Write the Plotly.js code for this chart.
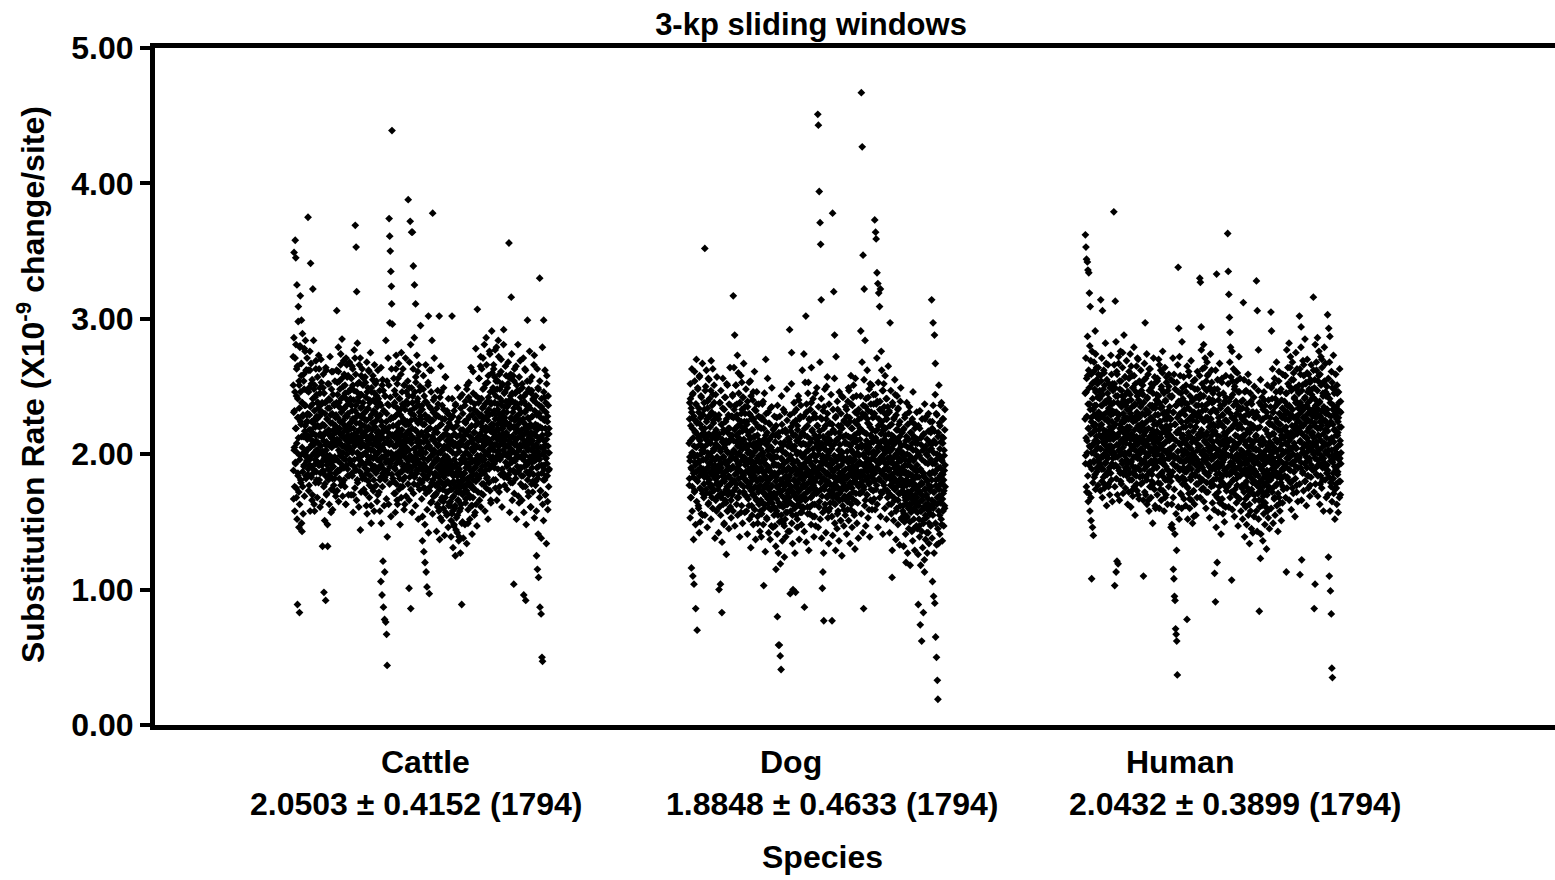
<!DOCTYPE html>
<html>
<head>
<meta charset="utf-8">
<script src="https://cdn.plot.ly/plotly-3.0.1.min.js"></script>
<style>
html,body{margin:0;padding:0;background:#fff;}
#chart{width:1555px;height:880px;}
</style>
</head>
<body>
<div id="chart"></div>
<script>
// Substitution rates (x10^-9 change/site) of 3-kb sliding windows, stored in hundredths,
// in window order. "A" arrays hold odd windows, "B" arrays the even windows in between.
const cattleRateA = [
272,188,231,349,205,176,246,358,193,345,219,168,263,325,201,89,241,184,309,227,146,251,83,196,280,317,224,179,258,299,213,143,238,187,228,156,201,254,192,278,236,199,221,284,215,182,262,203,229,247,
198,224,375,189,246,213,177,229,196,262,205,341,218,191,252,207,166,216,237,322,186,223,209,248,201,158,226,242,193,214,269,203,181,228,199,238,221,194,234,179,208,263,220,192,245,215,186,231,201,253,
213,192,231,132,202,249,187,214,98,199,221,178,238,207,92,195,262,209,171,226,199,132,234,189,215,252,196,217,184,240,206,193,223,157,212,261,197,230,182,209,244,191,218,173,211,236,198,207,186,227,
216,196,238,306,211,253,188,227,209,261,203,235,182,219,248,199,215,274,193,231,207,256,213,179,242,201,225,269,190,217,234,206,251,196,220,163,241,210,266,200,228,189,214,258,206,239,184,222,211,247,
203,241,193,219,256,214,186,232,201,263,211,170,226,208,247,196,215,271,369,189,236,353,209,320,228,181,252,201,217,197,239,212,266,192,223,209,144,244,205,258,194,221,235,184,213,251,200,230,207,216,
214,182,231,206,253,193,217,162,225,199,246,210,188,234,204,262,194,219,177,240,208,227,198,214,149,249,203,189,223,212,258,197,232,181,211,202,245,191,220,207,238,186,254,200,216,196,228,170,209,241,
207,189,228,196,247,181,214,203,106,236,192,221,96,205,255,186,212,87,232,198,218,78,183,243,202,76,194,224,67,209,44,188,237,200,216,195,251,374,207,361,191,350,226,335,201,324,311,439,214,197,
196,221,180,236,206,190,247,212,171,228,200,263,193,216,207,166,234,198,256,185,211,223,202,241,182,214,195,229,176,206,275,199,218,188,237,204,181,226,210,251,192,213,163,233,201,215,189,246,205,222,
210,188,237,203,388,195,222,101,249,183,215,372,199,86,230,208,364,190,219,364,243,197,339,212,178,234,325,204,226,192,311,253,201,217,186,239,211,196,261,206,224,189,236,214,174,247,200,228,209,192,
190,216,179,233,136,201,185,248,209,128,193,222,175,120,212,239,188,113,205,226,102,182,214,196,253,302,187,219,97,206,235,176,198,224,190,262,203,165,213,192,378,181,231,200,169,211,195,242,186,218,
184,208,171,228,195,178,216,190,161,237,201,183,207,302,174,221,192,153,212,187,246,179,203,168,226,196,185,214,165,233,190,206,177,199,257,188,157,218,194,172,210,186,230,180,204,192,162,223,189,213,
178,203,165,221,189,151,210,174,302,192,158,228,184,169,206,148,196,215,177,162,236,186,144,200,172,213,190,155,224,180,166,208,187,139,202,175,242,193,160,218,185,171,89,207,181,150,230,195,176,211,
186,214,176,236,196,164,223,190,205,173,248,201,182,217,149,208,193,253,179,228,199,168,213,188,239,204,177,221,194,162,211,185,261,202,174,233,207,190,216,157,226,196,180,243,205,184,212,307,193,230,
210,238,195,256,205,184,228,215,265,199,223,171,241,210,191,234,218,271,203,178,226,249,196,213,237,207,188,220,286,212,182,231,201,253,219,193,242,211,179,229,204,274,198,217,166,238,208,222,191,260,
220,198,249,212,266,203,232,190,257,216,226,181,243,207,279,213,196,237,222,254,201,218,272,206,230,176,248,211,225,199,261,219,209,239,189,251,215,228,203,281,221,183,235,210,246,200,224,214,258,206,
214,191,235,206,252,198,221,182,356,210,240,200,219,188,259,204,316,226,194,245,213,179,231,202,220,104,254,196,225,209,238,186,216,265,200,228,206,191,247,212,222,169,234,198,257,217,189,225,207,242,
206,231,184,218,197,249,211,176,226,201,96,239,191,215,263,199,222,92,209,245,187,233,205,299,193,219,172,236,208,226,185,213,254,196,222,161,216,203,247,190,228,210,180,241,199,220,205,273,195,214,
198,222,180,238,207,125,190,218,115,202,249,185,109,212,230,196,330,87,220,173,205,82,235,192,50,214,47,200,226,181,299,210,189,242,202,170,219,197,231,184,211,258,193,224,165,206,236,188,215,201
];
const cattleRateB = [
251,167,286,203,232,158,271,194,219,281,175,243,208,152,265,227,186,298,212,172,254,234,163,279,199,246,181,222,267,149,238,205,289,176,229,213,259,191,248,169,217,276,201,236,184,262,224,195,271,211,
230,185,262,204,173,249,218,192,276,158,235,211,267,183,224,199,255,170,241,215,189,284,207,163,232,251,196,220,179,263,210,187,244,226,168,257,203,238,192,273,214,181,228,249,161,236,206,270,194,221,
201,238,165,222,188,259,210,176,245,197,151,230,216,184,264,203,170,239,192,226,148,252,207,181,218,241,163,234,199,272,186,213,229,174,248,205,190,223,159,261,195,215,177,237,208,182,254,196,221,169,
229,186,262,207,173,244,218,195,279,165,238,210,254,188,224,201,266,177,241,214,190,285,206,169,233,250,197,222,181,259,212,176,245,228,163,271,204,236,192,257,217,184,230,246,170,239,209,268,196,223,
195,248,212,170,236,203,265,184,226,251,157,219,240,191,277,206,175,232,214,259,188,223,166,246,201,282,179,229,208,242,161,253,196,218,187,271,210,234,172,244,199,227,263,182,215,238,193,256,174,221,
226,190,257,201,171,242,213,186,268,156,233,207,249,180,220,196,261,168,238,211,184,275,203,162,229,246,192,218,175,255,207,173,240,223,158,266,198,231,187,252,212,177,225,243,165,235,201,262,190,217,
205,172,238,195,158,229,211,183,264,149,224,198,251,176,216,121,247,189,232,162,208,113,243,181,219,284,196,167,230,254,139,212,186,271,201,163,236,220,178,297,193,242,209,154,227,263,185,214,296,199,
182,227,199,256,171,213,238,189,157,244,206,273,178,221,197,252,163,230,209,186,267,174,218,241,194,148,233,202,259,168,214,187,246,224,176,263,191,208,236,159,251,198,183,222,271,205,169,239,212,192,
224,196,254,178,217,243,203,166,268,191,232,210,281,174,225,249,186,157,238,212,195,263,171,229,204,286,183,246,218,162,257,199,235,188,273,209,177,241,223,152,266,194,214,231,181,250,202,295,189,226,
204,167,236,189,154,222,197,258,175,213,243,182,148,229,201,266,171,217,190,238,159,209,184,251,196,142,227,205,173,262,187,219,234,164,246,199,179,284,211,156,225,193,240,169,203,271,185,216,230,177,
170,219,185,143,234,197,163,247,206,176,228,158,191,211,137,242,180,201,265,166,222,188,151,236,195,174,213,160,249,183,204,140,226,192,168,257,179,215,187,155,232,198,172,220,146,241,186,207,164,229,
195,162,226,174,139,213,187,156,241,168,201,131,219,180,147,232,191,160,208,125,237,176,193,153,221,184,142,249,166,205,172,136,227,189,158,214,178,127,234,196,163,210,149,244,183,170,218,138,199,181,
172,224,186,148,239,201,167,215,193,134,251,178,208,226,159,191,242,170,219,183,152,233,197,176,264,162,210,187,141,229,204,168,245,181,216,195,155,237,174,221,190,278,163,206,185,147,231,199,212,172,
223,182,256,197,166,241,214,188,272,161,229,205,263,178,220,195,248,170,235,209,186,281,199,158,227,252,192,217,175,266,211,183,239,225,152,258,202,233,189,276,208,173,246,218,164,237,196,291,204,230,
204,246,222,181,263,215,193,238,207,277,175,229,254,198,218,166,248,211,233,189,284,203,226,172,259,214,196,241,223,185,270,208,236,161,252,219,199,231,186,292,212,245,177,227,206,265,194,239,216,183,
231,174,249,214,192,268,201,185,237,222,157,256,208,243,179,227,196,274,213,166,239,202,258,188,220,234,171,263,207,195,245,182,226,211,152,251,198,237,218,281,187,229,203,164,247,216,190,269,205,178,
190,238,213,166,252,199,224,184,271,207,157,243,219,195,231,176,262,205,148,236,192,216,254,181,227,203,169,248,212,187,276,198,234,161,221,209,245,178,257,194,228,172,240,206,185,266,215,153,232,201,
214,177,243,196,158,229,205,263,182,221,141,248,191,210,236,168,254,199,173,227,212,138,241,186,219,279,163,233,204,151,246,192,225,181,262,207,170,238,197,134,252,215,184,228,159,243,201,176,219,189
];
const dogRateA = [
208,182,238,195,252,168,221,190,116,231,201,176,244,110,212,186,226,104,198,261,173,217,192,86,237,205,181,223,70,199,249,188,214,160,234,194,257,184,210,150,227,200,174,242,189,219,206,155,229,196,
189,216,178,233,202,352,186,212,250,196,171,224,207,183,239,190,214,163,228,199,255,181,209,193,220,176,247,201,187,231,168,213,196,263,184,225,204,174,238,192,216,182,207,244,189,211,158,227,198,179,
183,206,174,226,192,100,215,177,238,188,104,202,168,222,193,83,211,180,234,198,171,218,186,149,205,242,182,195,224,164,210,188,252,176,202,216,158,191,229,184,209,172,219,196,178,236,189,166,213,200,
198,228,181,244,190,317,210,173,233,202,288,185,219,196,251,178,214,189,237,168,206,226,193,260,182,212,201,172,238,188,221,208,157,230,195,253,183,217,204,186,242,176,211,198,224,170,235,192,218,187,
180,207,169,222,193,239,176,203,187,216,162,230,196,178,211,254,185,201,173,226,190,155,218,181,206,246,194,170,213,184,233,202,176,223,188,208,167,237,195,180,214,149,205,187,228,174,199,220,182,209,
177,204,166,219,190,156,227,181,199,172,239,187,103,211,175,196,163,224,184,270,170,207,192,152,216,179,203,167,231,188,174,211,160,199,222,182,171,205,187,147,235,177,196,214,168,202,185,161,219,193,
171,198,160,214,180,115,192,167,227,176,80,203,155,186,59,216,172,59,191,162,51,208,178,41,197,151,222,169,187,202,161,233,174,193,147,209,183,165,218,177,157,200,188,168,225,180,163,206,173,190,
183,209,168,292,177,97,199,164,220,187,275,173,206,155,193,100,214,181,170,231,190,160,203,176,98,225,185,167,210,195,152,218,179,201,172,240,188,162,212,182,174,228,192,166,207,186,157,216,198,177,
181,208,170,274,193,87,219,176,201,186,302,167,231,189,178,213,161,203,195,253,173,207,184,156,225,198,179,211,168,238,187,175,217,192,163,204,182,227,171,199,190,154,214,180,245,195,174,208,186,221,
183,210,451,172,443,200,189,394,165,217,371,179,355,206,314,192,226,169,101,197,113,213,182,77,235,174,204,187,160,221,194,177,208,250,185,168,230,199,180,212,158,202,191,173,223,184,164,210,196,216,
177,204,77,193,378,168,218,183,320,174,199,288,189,163,227,177,272,195,170,211,181,156,233,191,175,203,166,216,186,171,207,197,151,221,180,192,243,175,201,185,167,213,179,195,159,224,188,176,209,183,
189,214,174,233,182,202,165,222,194,177,249,185,207,170,227,197,179,212,159,237,188,203,175,219,191,167,242,183,209,196,155,224,180,199,256,186,171,211,192,178,230,201,164,216,187,205,176,226,194,183,
194,219,178,291,187,467,207,172,427,230,185,347,200,86,176,322,216,191,284,166,235,197,181,210,203,170,226,189,208,242,183,196,159,222,205,179,252,192,214,174,231,187,201,165,218,197,182,209,237,189,
199,230,373,186,217,364,195,359,210,177,334,239,202,326,189,221,319,206,181,309,233,194,322,209,172,276,198,224,187,247,204,179,218,196,252,184,211,230,174,214,201,190,241,182,207,226,193,168,235,203,
188,215,171,231,183,202,297,177,210,194,163,222,185,109,204,236,179,197,213,168,227,190,174,208,244,181,200,158,218,193,176,211,186,233,166,203,197,222,178,189,213,171,239,182,195,206,152,216,190,201,
173,199,162,218,180,156,207,170,192,229,166,187,120,213,177,153,200,172,222,184,160,211,168,195,235,178,150,205,185,163,216,173,197,159,226,181,167,203,189,145,212,176,164,219,183,170,208,158,198,187,
168,192,157,211,176,89,201,162,183,147,219,172,74,189,158,207,166,62,196,178,151,214,169,83,186,160,204,113,174,226,155,182,163,200,170,142,211,180,159,193,167,230,177,149,203,162,185,173,156,216,
176,204,314,166,219,106,187,297,160,95,210,172,288,90,193,267,65,181,230,50,163,200,33,175,19,216,134,190,169,223,155,204,184,164,236,178,196,148,213,186,167,208,158,226,181,173,199,162,218,192
];
const dogRateB = [
177,226,198,153,241,210,168,234,189,263,158,219,201,245,183,137,228,206,172,254,194,216,148,237,187,270,165,224,199,180,248,212,162,231,195,142,258,207,175,222,190,243,156,214,203,186,267,171,229,196,
205,168,238,183,219,155,247,196,211,174,262,189,226,146,234,201,179,256,164,215,193,241,171,228,186,208,152,269,198,177,236,212,160,244,190,223,173,251,203,185,138,229,196,166,218,207,178,257,188,214,
169,213,187,142,229,196,161,238,178,204,155,247,190,171,222,135,209,184,256,163,216,198,148,233,180,207,166,242,193,174,126,226,188,158,251,201,170,219,183,145,237,195,177,264,161,211,189,153,228,198,
214,170,243,191,158,227,203,264,180,218,147,236,197,175,251,209,163,229,186,273,155,221,200,168,245,192,216,139,238,205,178,258,187,224,162,233,198,149,242,210,184,267,172,219,195,157,230,206,181,248,
196,158,224,180,141,235,201,167,214,189,253,152,207,176,229,194,131,243,183,162,218,199,170,240,187,148,226,208,175,261,159,213,191,137,232,204,166,246,181,197,154,220,189,172,237,163,210,194,143,227,
158,208,182,139,226,195,164,237,172,201,148,219,186,160,245,177,193,128,214,169,230,188,153,208,181,256,163,199,175,142,223,190,167,211,137,234,183,159,205,176,249,164,197,185,146,218,171,192,155,228,
186,147,209,170,132,221,183,158,198,141,236,175,192,127,213,164,187,150,228,172,119,204,181,155,243,162,196,136,217,178,149,207,168,189,124,231,177,152,201,139,216,184,163,248,157,195,171,143,212,180,
165,211,184,143,229,197,158,217,176,252,149,204,188,134,223,172,195,162,238,181,206,127,214,169,189,155,233,178,200,146,221,186,163,243,174,209,137,226,192,168,201,157,236,183,148,215,175,262,190,161,
199,160,228,178,143,214,191,253,166,207,184,135,237,196,172,221,156,245,188,203,129,226,174,195,161,233,181,209,148,264,192,169,218,186,154,241,177,200,139,230,189,163,212,198,147,227,183,171,249,206,
172,221,190,146,235,203,161,213,185,268,152,227,194,174,241,138,208,182,199,157,232,188,127,219,176,204,248,163,211,193,142,226,180,197,169,257,186,153,215,201,134,237,178,192,160,223,207,171,244,189,
193,154,222,171,140,233,187,164,207,178,256,149,216,183,129,228,196,168,210,145,239,175,190,158,221,181,136,246,199,166,213,184,151,230,173,202,125,219,187,162,242,176,197,147,225,182,169,208,155,235,
167,208,183,141,228,197,159,239,176,213,151,247,190,168,224,134,206,185,258,163,219,194,146,236,179,201,172,251,188,157,214,196,130,231,182,209,165,243,191,149,222,178,205,187,138,233,199,171,216,184,
211,171,243,193,156,227,205,268,180,217,142,236,199,174,255,188,162,229,206,183,147,241,194,215,170,262,187,223,153,232,201,178,248,191,139,220,208,166,237,196,184,251,159,212,190,227,173,244,202,167,
180,228,201,159,244,212,174,237,190,271,163,218,205,146,253,193,226,182,208,168,239,197,154,232,215,186,262,171,221,199,141,247,188,210,177,235,204,160,258,193,219,184,226,152,241,208,173,230,197,265,
205,163,232,189,142,221,198,170,247,181,156,214,194,129,238,176,207,183,151,226,192,166,255,174,211,187,137,229,200,160,243,179,218,148,234,190,171,209,196,133,224,185,162,249,177,201,153,216,188,172,
158,201,176,132,219,186,150,227,168,196,141,210,181,163,238,154,192,127,205,172,186,145,231,163,199,179,118,216,191,157,224,170,143,208,184,136,246,166,195,152,213,178,129,222,189,161,203,174,147,231,
183,145,208,164,126,221,176,152,199,139,232,171,188,118,212,158,179,143,226,166,131,203,184,149,215,161,122,237,174,194,137,206,169,153,228,181,127,199,163,142,217,175,134,209,186,156,224,160,147,196,
162,207,181,138,224,193,155,236,172,201,127,217,186,164,244,149,208,177,196,133,229,168,189,145,213,182,158,251,174,199,141,221,190,165,209,152,238,179,195,136,226,185,171,212,147,203,188,160,233,176
];
const humanRateA = [
226,362,199,353,246,344,172,210,342,258,336,165,219,334,192,319,237,158,309,205,269,151,227,108,201,252,146,216,233,140,261,194,229,208,248,185,222,274,203,236,213,255,190,227,242,209,264,198,231,218,
214,241,192,227,204,314,254,198,222,180,236,306,209,189,248,218,200,260,175,226,207,239,194,217,267,203,231,185,213,245,197,224,178,234,206,252,190,220,211,238,186,229,201,259,193,216,232,205,247,213,
220,379,201,252,103,231,313,192,243,113,213,261,121,226,198,238,119,207,267,188,229,216,248,202,222,180,254,210,235,195,243,219,275,205,230,185,240,212,224,199,257,218,190,236,208,251,196,227,215,246,
212,239,189,226,256,202,220,181,244,207,230,194,265,215,173,235,205,249,191,224,211,198,258,185,218,237,203,228,190,246,213,178,231,207,271,197,221,170,240,209,227,200,253,188,217,235,204,193,247,220,
203,230,184,244,211,110,222,194,255,189,216,297,206,170,233,198,224,181,241,210,192,231,166,219,201,263,187,213,236,204,176,227,195,249,211,185,218,202,234,178,225,208,192,252,199,214,162,229,205,194,
210,237,190,222,254,200,229,179,243,211,195,266,204,224,174,234,215,199,248,186,220,207,260,193,230,203,183,245,217,196,226,168,239,209,191,221,257,201,231,181,213,228,203,188,250,218,197,235,184,214,
200,226,146,184,242,148,212,145,193,231,115,206,108,253,95,197,92,222,71,210,67,236,62,191,37,216,202,338,246,293,181,229,208,195,258,215,189,224,170,237,203,212,183,249,199,220,194,232,209,178,
203,229,181,220,195,246,187,211,78,237,200,175,225,206,261,191,214,167,233,197,221,183,250,204,189,228,209,172,240,194,217,201,154,229,211,185,255,198,220,192,236,178,208,224,196,248,188,214,205,231,
212,241,193,330,206,327,227,180,294,218,200,252,190,232,214,175,243,203,224,195,264,209,186,236,199,227,172,247,216,197,258,207,225,184,238,202,220,191,249,211,179,231,205,222,196,253,214,189,240,209,
197,222,177,239,205,112,217,189,91,232,200,182,333,210,120,248,194,221,172,227,203,186,244,198,213,166,234,207,180,222,192,256,201,184,229,210,162,220,196,237,188,214,204,176,242,199,225,185,208,216,
206,363,233,335,191,318,218,301,178,290,211,279,199,242,186,107,227,203,254,193,221,181,236,209,197,248,174,225,214,189,239,205,182,230,200,260,195,219,168,233,208,191,246,199,222,184,212,228,203,188,
193,219,177,234,202,186,312,213,172,228,197,246,189,209,167,224,200,180,237,193,216,175,230,205,187,253,196,211,163,222,199,183,239,190,219,174,207,231,195,179,221,204,189,242,198,170,227,210,185,213,
187,214,328,177,197,306,171,228,184,277,203,166,84,192,220,180,123,207,174,236,189,162,212,196,182,226,169,201,186,240,177,209,193,164,218,183,198,172,231,188,204,158,215,180,195,223,175,203,185,209,
199,227,181,305,208,291,189,241,215,175,231,197,184,252,205,220,168,235,194,211,187,246,202,178,224,210,192,238,171,218,198,261,185,230,204,164,222,195,248,182,214,207,189,234,200,176,228,212,193,219,
212,239,191,226,258,202,220,113,245,197,231,183,214,252,206,225,189,236,210,198,264,179,229,216,193,247,204,221,175,233,213,200,255,187,227,208,242,195,218,182,238,205,228,172,249,215,199,224,190,234,
218,245,198,302,230,111,210,259,194,294,236,122,221,204,251,187,227,214,266,201,234,207,180,242,223,194,253,212,229,190,260,217,202,238,184,225,209,248,197,231,220,177,255,205,224,192,244,214,230,203,
216,242,316,200,231,86,223,255,104,207,236,190,227,262,209,196,247,219,184,233,203,258,213,193,239,224,178,228,210,251,199,221,270,205,232,181,243,215,197,235,208,254,190,225,218,246,201,230,212,186,
207,233,303,188,221,124,293,199,110,241,287,211,99,179,228,82,203,42,253,35,194,222,182,236,209,197,248,174,218,204,230,189,214,175,226,200,245,185,216,206,227,192,238,180,220,197,210,170,231,201
];
const humanRateB = [
245,193,271,212,176,256,228,201,287,184,237,219,262,171,249,206,280,194,233,215,168,259,224,189,276,207,241,179,253,221,195,268,183,236,210,291,174,246,218,199,264,187,230,252,205,177,259,226,194,243,
196,247,221,173,258,204,236,189,271,212,168,244,198,229,183,262,215,178,251,207,193,282,185,238,210,162,255,199,226,187,266,214,176,241,203,231,170,249,218,191,273,206,181,237,224,165,252,197,230,211,
238,191,266,214,176,249,222,198,283,182,231,207,259,170,243,213,190,272,203,229,166,254,219,186,276,200,236,178,247,224,193,264,209,171,239,216,288,187,227,201,257,175,244,212,195,269,184,233,220,163,
193,246,218,172,261,200,233,186,274,211,161,240,195,227,181,258,214,169,249,204,187,279,176,236,207,155,252,198,225,184,265,210,173,243,219,190,270,201,229,167,254,212,183,238,196,262,178,221,245,203,
223,179,251,208,166,238,214,195,267,172,229,201,256,183,218,191,274,163,242,207,185,259,199,231,158,247,212,176,263,194,226,168,252,204,180,236,216,149,245,189,271,201,222,174,257,196,234,160,213,240,
191,244,217,170,256,203,229,184,270,208,160,238,195,224,178,262,212,166,250,199,235,187,276,173,219,246,193,158,231,208,264,181,240,202,170,253,215,189,226,163,247,197,232,176,259,210,185,243,204,221,
226,180,255,204,163,243,212,187,271,168,231,199,259,174,222,141,248,191,236,156,216,129,253,183,227,266,197,161,239,218,152,272,188,230,207,171,245,195,224,160,283,202,178,241,214,190,257,167,233,209,
187,238,208,162,251,196,224,176,265,201,152,234,189,216,171,258,205,160,243,194,227,181,269,166,212,239,185,149,225,200,254,173,231,197,163,248,210,184,220,155,242,192,228,168,261,203,178,236,191,215,
229,183,258,206,168,244,216,192,277,174,236,201,263,181,225,196,281,165,249,210,187,271,198,233,160,254,214,179,268,193,227,172,259,205,186,241,220,153,248,190,274,203,226,176,262,199,238,164,217,245,
181,233,205,159,248,192,221,170,262,199,146,231,185,214,168,255,203,157,240,190,224,176,267,164,208,236,182,141,222,197,253,167,229,194,156,245,207,178,216,150,239,189,225,161,258,200,173,232,186,211,
224,176,252,199,161,239,210,185,268,168,230,194,257,172,219,188,276,159,244,205,181,263,191,227,154,250,207,170,261,186,223,164,254,198,177,236,213,147,246,184,272,195,220,167,256,189,233,158,211,239,
175,226,198,152,240,187,214,163,255,193,139,224,178,207,161,247,196,148,233,184,218,169,259,155,202,229,173,134,216,190,245,158,222,186,145,237,199,171,209,142,231,181,219,154,250,193,166,227,179,204,
203,158,231,185,143,219,194,171,247,152,210,179,238,161,199,175,255,141,225,189,166,242,172,207,136,233,192,156,246,178,202,148,236,185,161,218,197,130,228,170,251,183,206,153,240,176,213,145,195,222,
184,235,207,160,249,193,222,172,263,201,149,231,186,215,167,256,204,155,241,191,226,177,268,162,209,237,183,143,223,198,254,168,230,195,158,246,211,179,217,151,240,188,227,164,259,202,174,233,189,213,
229,184,258,208,168,245,217,193,277,175,236,202,264,181,226,197,282,166,250,212,188,272,199,234,159,255,215,180,268,194,228,171,260,206,187,241,221,154,249,191,275,204,227,177,263,198,238,165,219,246,
197,251,224,178,263,209,238,190,279,216,166,247,201,232,186,269,221,173,258,207,241,193,285,180,226,252,198,162,236,212,270,184,246,205,175,259,219,195,233,169,253,203,240,183,266,215,189,248,208,228,
233,188,262,212,172,249,221,197,281,178,240,206,268,185,230,201,286,169,254,214,192,276,203,238,163,259,219,184,272,197,232,175,264,209,190,245,225,158,253,194,279,207,231,181,267,202,243,168,223,250,
192,244,217,170,256,203,229,183,268,208,158,238,195,224,176,261,212,165,249,199,233,186,273,171,218,245,191,152,228,204,259,178,235,201,163,251,214,187,224,157,246,196,232,168,263,207,180,239,193,220
];

const species = ["Cattle", "Dog", "Human"];
const summaries = ["2.0503 ± 0.4152 (1794)", "1.8848 ± 0.4633 (1794)", "2.0432 ± 0.3899 (1794)"];
const windowsPerSpecies = 1794;
const yTicks = [0, 1, 2, 3, 4, 5];

// layout geometry (axis expressed in window units)
const W = 1555, H = 880, ML = 155, MR = 0, MT = 48, MB = 155;
const plotW = W - ML - MR, plotH = H - MT - MB;
const groupOffsets = [967, 3740, 6513];
const xRange = [0, 9805];

const FONT = "Liberation Sans, Arial, Helvetica, sans-serif";
const FS = 32;
const seriesList = [[cattleRateA, cattleRateB], [dogRateA, dogRateB], [humanRateA, humanRateB]];

const traces = seriesList.map(([a, b], s) => {
  const n = a.length;
  const pairStep = (windowsPerSpecies - 2) / (n - 1);
  const xs = [], ys = [];
  for (let i = 0; i < n; i++) {
    xs.push(groupOffsets[s] + 1 + i * pairStep); ys.push(a[i] / 100);
    if (i < b.length) { xs.push(groupOffsets[s] + 2 + i * pairStep); ys.push(b[i] / 100); }
  }
  return {
    type: "scatter", mode: "markers", name: species[s],
    x: xs, y: ys,
    marker: {symbol: "diamond", size: 6, color: "#000", line: {width: 0}},
    hoverinfo: "y", showlegend: false
  };
});

const px2x = p => (p - ML) / plotW;
const py2y = p => (H - MB - p) / plotH;
const labelCenters = [425, 791, 1180];
const summaryCenters = [416, 832, 1235];
const boldFont = {family: FONT, size: FS, color: "#000", weight: "bold"};

const annotations = [];
species.forEach((sp, s) => {
  annotations.push({xref: "paper", yref: "paper", x: px2x(labelCenters[s]), y: py2y(762),
    xanchor: "center", yanchor: "middle", showarrow: false, text: sp, font: boldFont});
  annotations.push({xref: "paper", yref: "paper", x: px2x(summaryCenters[s]), y: py2y(804),
    xanchor: "center", yanchor: "middle", showarrow: false, text: summaries[s], font: boldFont});
});
annotations.push({xref: "paper", yref: "paper", x: px2x(822), y: py2y(857),
  xanchor: "center", yanchor: "middle", showarrow: false, text: "Species", font: boldFont});
annotations.push({xref: "paper", yref: "paper", x: px2x(31), y: py2y(385),
  xanchor: "center", yanchor: "middle", showarrow: false, textangle: -90,
  text: "Substitution Rate (X10<sup>-9</sup> change/site)", font: boldFont});

const layout = {
  width: W, height: H,
  margin: {l: ML, r: MR, t: MT, b: MB, pad: 0},
  paper_bgcolor: "#fff", plot_bgcolor: "#fff",
  title: {text: "3-kp sliding windows", x: 811 / W, xanchor: "center", xref: "container",
          y: 1 - 24 / H, yanchor: "middle", yref: "container",
          font: {family: FONT, size: 31, color: "#000", weight: "bold"}},
  xaxis: {range: xRange, showgrid: false, zeroline: false, showticklabels: false, ticks: "",
          showline: true, linecolor: "#000", linewidth: 5, mirror: true, fixedrange: true},
  yaxis: {range: [0, 5], tickvals: yTicks, tickformat: ".2f", ticks: "outside", ticklen: 10,
          tickwidth: 4, tickcolor: "#000", showgrid: false, zeroline: false,
          showline: true, linecolor: "#000", linewidth: 5, fixedrange: true,
          tickfont: boldFont},
  annotations: annotations
};

Plotly.newPlot("chart", traces, layout, {displayModeBar: false, staticPlot: true});
</script>
</body>
</html>
